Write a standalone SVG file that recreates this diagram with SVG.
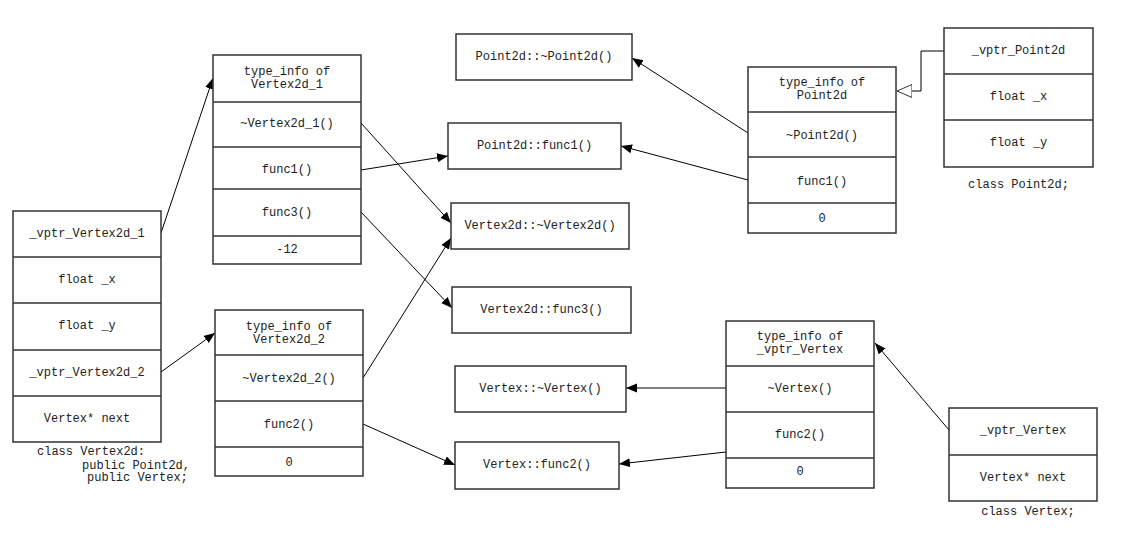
<svg xmlns="http://www.w3.org/2000/svg" width="1121" height="552" viewBox="0 0 1121 552">
<style>
.box{fill:#fff;stroke:#333;stroke-width:1.5}
.sep{stroke:#333;stroke-width:1.5}
text{font-family:"Liberation Mono","Courier New",monospace;font-size:12px;fill:#222;text-anchor:middle;dominant-baseline:central}
.l{text-anchor:start}
.c{fill:none;stroke:#000;stroke-width:1}
</style>
<defs>
<marker id="ah" markerUnits="userSpaceOnUse" markerWidth="12" markerHeight="10" refX="11" refY="4.5" orient="auto">
<path d="M0,0 L11,4.5 L0,9 Z" fill="#000"/>
</marker>
<marker id="tri" markerUnits="userSpaceOnUse" markerWidth="16" markerHeight="14" refX="15" refY="7" orient="auto">
<path d="M0,0.5 L15,7 L0,13.5 Z" fill="#fff" stroke="#333" stroke-width="1"/>
</marker>
</defs>
<rect width="1121" height="552" fill="#fff"/>

<g id="connectors">
<line class="c" x1="161" y1="233" x2="213" y2="78" marker-end="url(#ah)"/>
<line class="c" x1="161" y1="372" x2="215" y2="333" marker-end="url(#ah)"/>
<line class="c" x1="361" y1="123" x2="451" y2="223" marker-end="url(#ah)"/>
<line class="c" x1="361" y1="170" x2="448" y2="156" marker-end="url(#ah)"/>
<line class="c" x1="361" y1="212" x2="452" y2="308" marker-end="url(#ah)"/>
<line class="c" x1="363" y1="378" x2="451" y2="238" marker-end="url(#ah)"/>
<line class="c" x1="363" y1="424" x2="455" y2="465" marker-end="url(#ah)"/>
<line class="c" x1="748" y1="133" x2="632" y2="58" marker-end="url(#ah)"/>
<line class="c" x1="748" y1="180" x2="621" y2="146" marker-end="url(#ah)"/>
<line class="c" x1="726" y1="388" x2="626" y2="388" marker-end="url(#ah)"/>
<line class="c" x1="726" y1="452" x2="619" y2="464" marker-end="url(#ah)"/>
<line class="c" x1="949" y1="430" x2="875" y2="343" marker-end="url(#ah)"/>
<path class="c" d="M944,51 H921 V91 H897" marker-end="url(#tri)"/>
</g>

<g id="class-vertex2d">
<rect class="box" x="13" y="211" width="148" height="231"/>
<line class="sep" x1="13" y1="257" x2="161" y2="257"/>
<line class="sep" x1="13" y1="303" x2="161" y2="303"/>
<line class="sep" x1="13" y1="350" x2="161" y2="350"/>
<line class="sep" x1="13" y1="396" x2="161" y2="396"/>
<text x="87" y="234">_vptr_Vertex2d_1</text>
<text x="87" y="280">float _x</text>
<text x="87" y="326">float _y</text>
<text x="87" y="373">_vptr_Vertex2d_2</text>
<text x="87" y="419">Vertex* next</text>
<text class="l" x="37" y="452">class Vertex2d:</text>
<text class="l" x="82" y="466">public Point2d,</text>
<text class="l" x="87" y="478">public Vertex;</text>
</g>

<g id="vtbl-vertex2d-1">
<rect class="box" x="213" y="55" width="148" height="209"/>
<line class="sep" x1="213" y1="102" x2="361" y2="102"/>
<line class="sep" x1="213" y1="147" x2="361" y2="147"/>
<line class="sep" x1="213" y1="189" x2="361" y2="189"/>
<line class="sep" x1="213" y1="236" x2="361" y2="236"/>
<text x="287" y="72">type_info of</text>
<text x="287" y="85">Vertex2d_1</text>
<text x="287" y="124">~Vertex2d_1()</text>
<text x="287" y="170">func1()</text>
<text x="287" y="213">func3()</text>
<text x="287" y="250">-12</text>
</g>

<g id="vtbl-vertex2d-2">
<rect class="box" x="215" y="310" width="148" height="166"/>
<line class="sep" x1="215" y1="355" x2="363" y2="355"/>
<line class="sep" x1="215" y1="401" x2="363" y2="401"/>
<line class="sep" x1="215" y1="447" x2="363" y2="447"/>
<text x="289" y="327">type_info of</text>
<text x="289" y="340">Vertex2d_2</text>
<text x="289" y="379">~Vertex2d_2()</text>
<text x="289" y="425">func2()</text>
<text x="289" y="463">0</text>
</g>

<g id="fn-point2d-dtor">
<rect class="box" x="456" y="34" width="176" height="46"/>
<text x="544" y="57">Point2d::~Point2d()</text>
</g>
<g id="fn-point2d-func1">
<rect class="box" x="448" y="123" width="173" height="46"/>
<text x="534.5" y="146">Point2d::func1()</text>
</g>
<g id="fn-vertex2d-dtor">
<rect class="box" x="451" y="203" width="178" height="46"/>
<text x="540" y="226">Vertex2d::~Vertex2d()</text>
</g>
<g id="fn-vertex2d-func3">
<rect class="box" x="452" y="287" width="179" height="46"/>
<text x="541.5" y="310">Vertex2d::func3()</text>
</g>
<g id="fn-vertex-dtor">
<rect class="box" x="455" y="366" width="171" height="46"/>
<text x="540.5" y="389">Vertex::~Vertex()</text>
</g>
<g id="fn-vertex-func2">
<rect class="box" x="455" y="442" width="164" height="47"/>
<text x="537" y="465">Vertex::func2()</text>
</g>

<g id="vtbl-point2d">
<rect class="box" x="748" y="67" width="148" height="166"/>
<line class="sep" x1="748" y1="112" x2="896" y2="112"/>
<line class="sep" x1="748" y1="157" x2="896" y2="157"/>
<line class="sep" x1="748" y1="203" x2="896" y2="203"/>
<text x="822" y="83">type_info of</text>
<text x="822" y="96">Point2d</text>
<text x="822" y="136">~Point2d()</text>
<text x="822" y="182">func1()</text>
<text x="822" y="219">0</text>
</g>

<g id="class-point2d">
<rect class="box" x="944" y="28" width="149" height="139"/>
<line class="sep" x1="944" y1="74" x2="1093" y2="74"/>
<line class="sep" x1="944" y1="120" x2="1093" y2="120"/>
<text x="1018.5" y="51">_vptr_Point2d</text>
<text x="1018.5" y="97">float _x</text>
<text x="1018.5" y="143">float _y</text>
<text x="1018.5" y="185">class Point2d;</text>
</g>

<g id="vtbl-vertex">
<rect class="box" x="726" y="321" width="148" height="167"/>
<line class="sep" x1="726" y1="366" x2="874" y2="366"/>
<line class="sep" x1="726" y1="412" x2="874" y2="412"/>
<line class="sep" x1="726" y1="458" x2="874" y2="458"/>
<text x="800" y="337">type_info of</text>
<text x="800" y="350">_vptr_Vertex</text>
<text x="800" y="389">~Vertex()</text>
<text x="800" y="435">func2()</text>
<text x="800" y="472">0</text>
</g>

<g id="class-vertex">
<rect class="box" x="949" y="408" width="148" height="93"/>
<line class="sep" x1="949" y1="455" x2="1097" y2="455"/>
<text x="1023" y="431">_vptr_Vertex</text>
<text x="1023" y="478">Vertex* next</text>
<text x="1028" y="512">class Vertex;</text>
</g>
</svg>
